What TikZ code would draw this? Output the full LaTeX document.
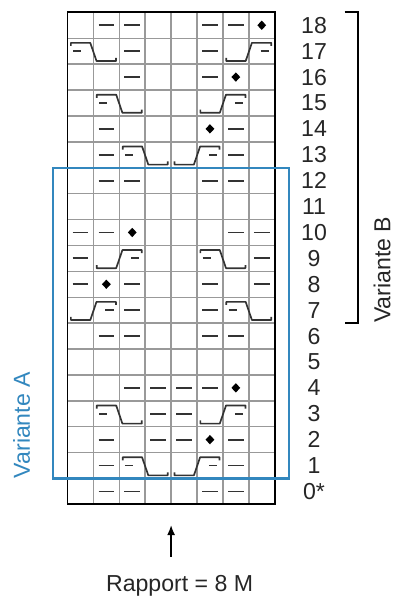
\documentclass[tikz,border=0pt]{standalone}
\usepackage{fontspec}
\setmainfont{Liberation Sans}
\usetikzlibrary{arrows.meta}
\definecolor{rahmenblau}{RGB}{50,135,190}
\tikzset{
    gitter/.style={black!40, line width=1pt},
    rand/.style={black, line width=1.4pt},
    strich/.style={black!80, line width=1.3pt},
    zopf/.style={black!80, line width=1.2pt, line join=round},
    schrift/.style={font=\fontsize{16.5}{19}\selectfont, text=black!85, inner sep=0pt}
}
\begin{document}
\begin{tikzpicture}[x=0.65cm, y=0.65cm]
    \useasboundingbox (-2.606,-3.652) rectangle (12.606,19.475);

    % Grille
    \foreach \i in {1,...,7}
        \draw[gitter] (\i,0) -- (\i,19);
    \foreach \j in {1,...,18}
        \draw[gitter] (0,\j) -- (8,\j);
    \draw[rand] (0,0) rectangle (8,19);

    % Maschen links
    \foreach \c/\r in {2/18,3/18,6/18,7/18, 3/17,6/17, 3/16,6/16, 2/14,7/14,
                       2/13,7/13, 2/12,3/12,6/12,7/12, 1/10,2/10,7/10,8/10,
                       1/9,8/9, 1/8,3/8,6/8,8/8, 3/7,6/7, 2/6,3/6,6/6,7/6,
                       3/4,4/4,5/4,6/4, 4/3,5/3, 2/2,4/2,5/2,7/2, 2/1,7/1,
                       2/0,3/0,6/0,7/0}
        \draw[strich] (\c-0.8,\r+0.5) -- (\c-0.2,\r+0.5);

    % Noppen
    \foreach \c/\r in {8/18,7/16,6/14,3/10,2/8,7/4,6/2}
        \fill[black] (\c-0.5,\r+0.5) +(0,0.18) -- +(0.17,0) -- +(0,-0.18) -- +(-0.17,0) -- cycle;

    % Zopf nach rechts
    \foreach \c/\r in {1/17,2/15,3/13,6/9,7/7,2/3,3/1} {
        \draw[zopf] (\c-0.87,\r+0.7) -- (\c-0.87,\r+0.82) -- (\c-0.12,\r+0.82)
            -- (\c+0.12,\r+0.12) -- (\c+0.87,\r+0.12) -- (\c+0.87,\r+0.24);
        \draw[strich] (\c-0.78,\r+0.5) -- (\c-0.46,\r+0.5);
    }

    % Zopf nach links
    \foreach \c/\r in {7/17,6/15,5/13,2/9,1/7,6/3,5/1} {
        \draw[zopf] (\c-0.87,\r+0.24) -- (\c-0.87,\r+0.12) -- (\c-0.12,\r+0.12)
            -- (\c+0.12,\r+0.82) -- (\c+0.87,\r+0.82) -- (\c+0.87,\r+0.7);
        \draw[strich] (\c+0.46,\r+0.5) -- (\c+0.78,\r+0.5);
    }

    % Reihen
    \node[schrift] (n0) at (9.52,0.5) {0*};
    \foreach \r in {1,...,18}
        \node[schrift] (n\r) at (9.52,\r+0.5) {\r};

    % Variante B
    \draw[line width=1.5pt] (10.7,19) -- (11.23,19) -- (11.23,7) -- (10.7,7);
    \node[schrift, rotate=90, anchor=base west] (varb) at (12.47,7) {Variante B};

    % Variante A
    \draw[rahmenblau, line width=1.6pt] (-0.55,1) rectangle (8.56,13);
    \node[schrift, text=rahmenblau, rotate=90, anchor=base west] (vara) at (-1.45,1) {Variante A};

    % Rapport
    \node[schrift, anchor=base] (rapport) at (4.33,-3.38) {Rapport = 8 M};
    \coordinate (fuss) at (4,-2.03);
    \coordinate (spitze) at (4,-0.8);
    \draw[-{Latex[length=2.5mm,width=2mm]}, line width=1pt] (fuss) -- (spitze);
\end{tikzpicture}
\end{document}
